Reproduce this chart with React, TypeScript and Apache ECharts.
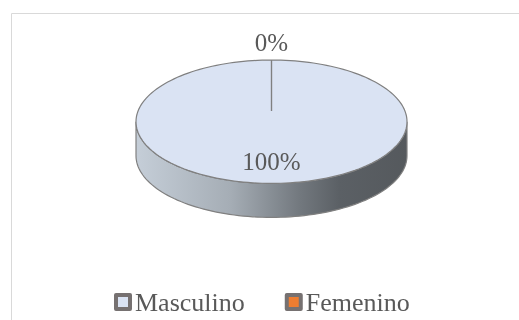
import React, { useEffect, useRef } from 'react';
import * as echarts from 'echarts';

const categories = ['Masculino', 'Femenino'];
const values = [100, 0];
const sliceColors = ['#DAE3F3', '#ED7D31'];

const FONT = '"Liberation Serif", "Times New Roman", serif';
const TEXT_COLOR = '#595959';
const OUTLINE = '#808080';

export default function App() {
  const ref = useRef<HTMLDivElement>(null);
  useEffect(() => {
    document.body.style.margin = '0';
    const chart = echarts.init(ref.current!, null, { renderer: 'svg' });
    const total = values.reduce((a, b) => a + b, 0);
    const starts: number[] = [];
    let acc = 0;
    values.forEach((v) => {
      starts.push(acc);
      acc += v;
    });
    const CX = 271.5, CY = 121.7, RX = 135.5, RY = 61.7, DEPTH = 34, HUBY = 111;
    const pt = (deg: number, dy = 0) => {
      const r = (deg * Math.PI) / 180;
      return [CX + RX * Math.sin(r), CY - RY * Math.cos(r) + dy];
    };
    const arc = (a0: number, a1: number, dy = 0) => {
      const n = Math.max(2, Math.ceil(Math.abs(a1 - a0) / 2));
      const pts: number[][] = [];
      for (let k = 0; k <= n; k++) pts.push(pt(a0 + ((a1 - a0) * k) / n, dy));
      return pts;
    };
    const sideFill = (i: number) =>
      i === 0
        ? new echarts.graphic.LinearGradient(0, 0, 1, 0, [
            { offset: 0, color: '#c5ced8' },
            { offset: 0.35, color: '#a5adb5' },
            { offset: 0.6, color: '#73797f' },
            { offset: 0.75, color: '#5b6065' },
            { offset: 1, color: '#55595d' },
          ])
        : '#a85418';

    const renderItem = (params: any, api: any) => {
      const i = params.dataIndex;
      const v = api.value(0);
      const a0 = (starts[i] / total) * 360;
      const a1 = ((starts[i] + v) / total) * 360;
      const children: any[] = [];
      const s0 = Math.max(a0, 90), s1 = Math.min(a1, 270);
      if (s1 > s0) {
        const pts = arc(s0, s1).concat(arc(s1, s0, DEPTH));
        children.push({
          type: 'polygon',
          shape: { points: pts },
          style: { fill: sideFill(i), stroke: OUTLINE, lineWidth: 1.2 },
        });
      }
      if (a1 > a0) {
        const pts = [[CX, HUBY]].concat(arc(a0, a1));
        children.push({
          type: 'polygon',
          shape: { points: pts },
          style: { fill: sliceColors[i], stroke: OUTLINE, lineWidth: 1.2 },
        });
      } else {
        const p = pt(a0);
        children.push({
          type: 'line',
          shape: { x1: CX, y1: HUBY, x2: p[0], y2: p[1] },
          style: { stroke: OUTLINE, lineWidth: 1.2 },
        });
      }
      const frac = v / total;
      const m = (((a0 + a1) / 2) * Math.PI) / 180;
      let lx: number, ly: number;
      if (frac >= 0.1) {
        lx = CX + 0.65 * RX * Math.sin(m);
        ly = CY - 0.65 * RY * Math.cos(m);
      } else {
        lx = CX + (RX + 22) * Math.sin(m);
        ly = CY - (RY + 18) * Math.cos(m);
      }
      children.push({
        type: 'text',
        x: lx,
        y: ly,
        style: {
          text: Math.round(frac * 100) + '%',
          fill: TEXT_COLOR,
          fontSize: 25,
          fontFamily: FONT,
          align: 'center',
          verticalAlign: 'middle',
        },
      });
      return { type: 'group', children };
    };

    chart.setOption({
      animation: false,
      graphic: [
        {
          type: 'rect',
          shape: { x: 11.5, y: 13.5, width: 700, height: 500 },
          style: { fill: 'none', stroke: '#d9d9d9', lineWidth: 1 },
          silent: true,
        },
      ],
      legend: {
        data: categories,
        left: 109,
        top: 284,
        itemWidth: 14,
        itemHeight: 14,
        itemGap: 40,
        icon: 'rect',
        selectedMode: false,
        itemStyle: { borderColor: '#767171', borderWidth: 4 },
        textStyle: { fontSize: 26, color: TEXT_COLOR, fontFamily: FONT },
      },
      series: [
        {
          type: 'pie',
          radius: [0, 0],
          center: [CX, CY],
          silent: true,
          label: { show: false },
          labelLine: { show: false },
          data: categories.map((c, i) => ({ name: c, value: values[i], itemStyle: { color: sliceColors[i] } })),
        },
        {
          type: 'custom',
          coordinateSystem: 'none',
          silent: true,
          renderItem,
          data: values.map((v) => [v]),
        },
      ],
    });
    return () => chart.dispose();
  }, []);
  return <div ref={ref} style={{ position: 'fixed', left: 0, top: 0, width: 519, height: 320 }} />;
}
